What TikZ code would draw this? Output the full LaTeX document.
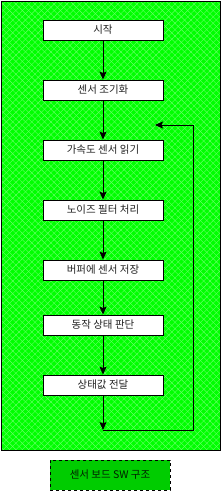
\documentclass[tikz,border=0pt]{standalone}
\usepackage{fontspec}
\setmainfont{Noto Sans CJK KR}
\usetikzlibrary{arrows.meta,patterns.meta}
\definecolor{bggreen}{HTML}{00FF00}
\definecolor{hatch}{HTML}{66FF66}
\definecolor{lblgreen}{HTML}{00CC00}
\definecolor{txt}{HTML}{222222}
\begin{document}
\begin{tikzpicture}[x=1pt,y=-1pt,
  stepbox/.style={draw=black,line width=0.8pt,fill=white,minimum width=120pt,minimum height=20pt,inner sep=0pt,font=\fontsize{10.5}{12}\selectfont,text=txt},
  conn/.style={draw=black,line width=0.9pt,-{Stealth[width=7pt,length=8pt,inset=1.5pt]}},
  plain/.style={draw=black,line width=0.9pt}]
\useasboundingbox (0,0) rectangle (221,491);
\fill[bggreen] (1,1) rectangle (220,450);
\fill[pattern={Lines[angle=45,distance=4.5pt,line width=0.4pt]},pattern color=hatch] (1,1) rectangle (220,450);
\fill[pattern={Lines[angle=-45,distance=4.5pt,line width=0.4pt]},pattern color=hatch] (1,1) rectangle (220,450);
\draw[black,line width=0.9pt] (1,1) rectangle (220,450);
\node[stepbox] (s1) at (103,30) {시작};
\node[stepbox] (s2) at (103,90) {센서 조기화};
\node[stepbox] (s3) at (103,150) {가속도 센서 읽기};
\node[stepbox] (s4) at (103,210) {노이즈 필터 처리};
\node[stepbox] (s5) at (103,270) {버퍼에 센서 저장};
\node[stepbox] (s6) at (103,325) {동작 상태 판단};
\node[stepbox] (s7) at (103,385) {상태값 전달};
\coordinate (e) at (103,430);
\coordinate (r1) at (193,430);
\coordinate (r2) at (193,125);
\coordinate (r3) at (155,125);
\draw[conn] (s1) -- (s2);
\draw[conn] (s2) -- (s3);
\draw[conn] (s3) -- (s4);
\draw[conn] (s4) -- (s5);
\draw[conn] (s5) -- (s6);
\draw[conn] (s6) -- (s7);
\draw[conn] (s7) -- (e);
\draw[conn] (e) -- (r1) -- (r2) -- (r3);
\node[draw=black,dashed,line width=1pt,fill=lblgreen,minimum width=120pt,minimum height=30pt,inner sep=0pt,font=\fontsize{10.5}{12}\selectfont,text=black!70!green!40!black] (lbl) at (110,475) {센서 보드 SW 구조};
\end{tikzpicture}
\end{document}
